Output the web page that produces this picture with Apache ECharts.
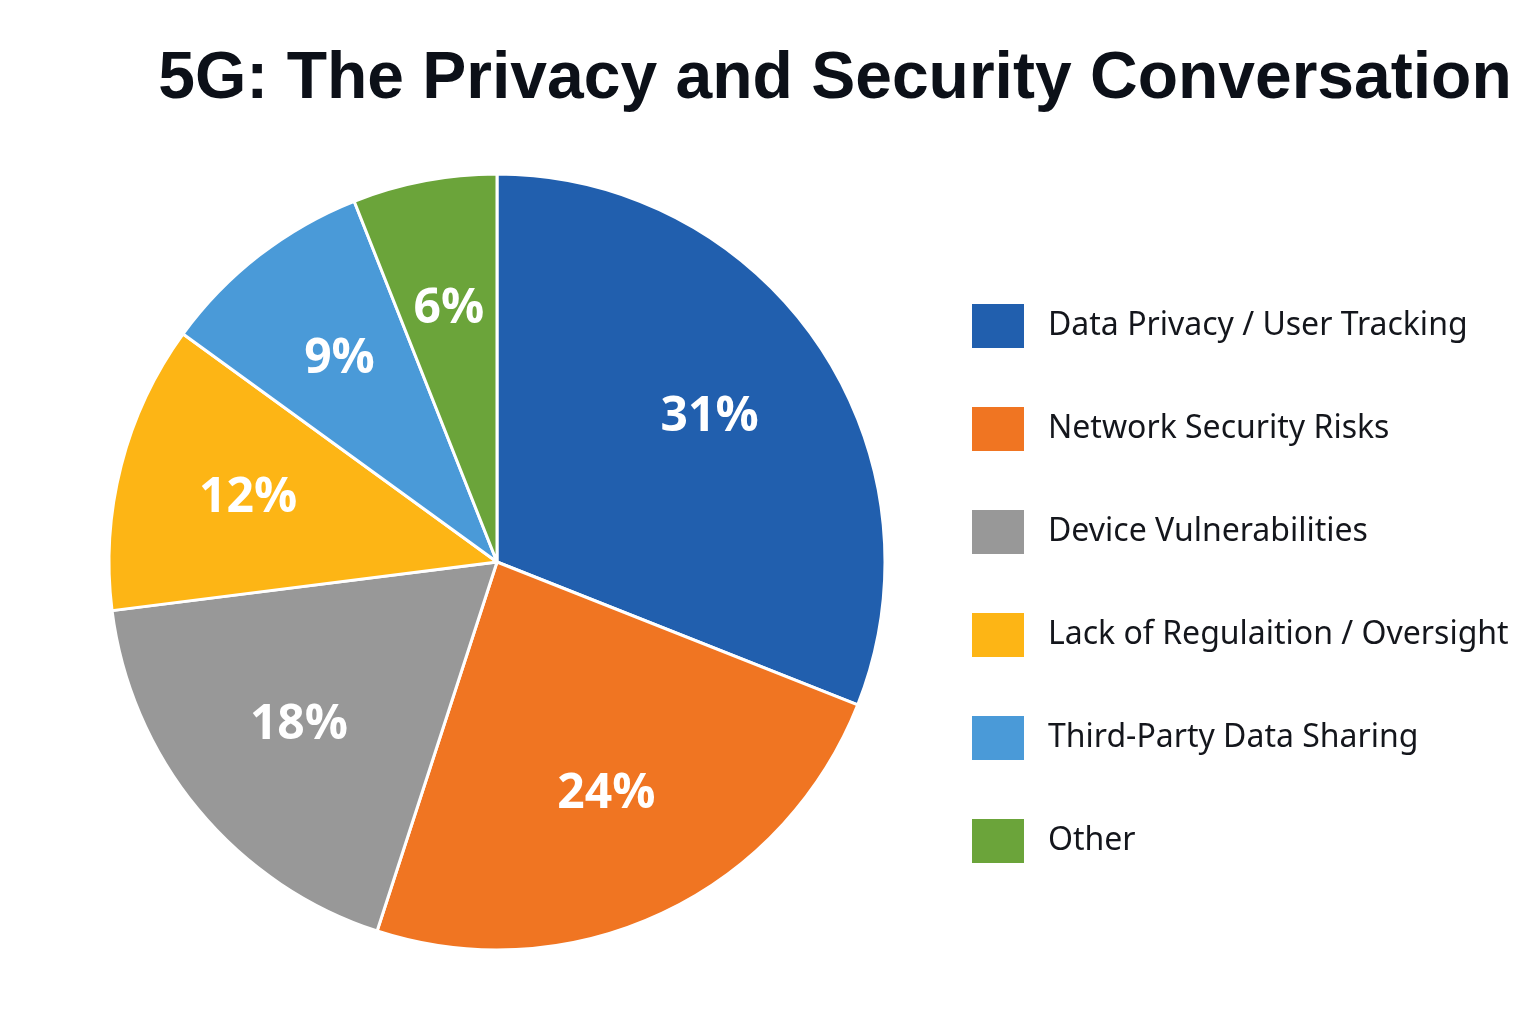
<!DOCTYPE html>
<html>
<head>
<meta charset="utf-8">
<title>5G: The Privacy and Security Conversation</title>
<script src="https://cdn.jsdelivr.net/npm/echarts@6/dist/echarts.min.js"></script>
<style>
  html, body { margin: 0; padding: 0; background: #ffffff; }
  #main { width: 1536px; height: 1024px; }
</style>
</head>
<body>
<div id="main"></div>
<script>
// data
var categories = ['Data Privacy / User Tracking', 'Network Security Risks', 'Device Vulnerabilities',
                  'Lack of Regulaition / Oversight', 'Third-Party Data Sharing', 'Other'];
var shares = [31, 24, 18, 12, 9, 6];
var colors = ['#215FAE', '#F07522', '#989898', '#FDB515', '#4A9AD8', '#6BA43A'];

var pieData = categories.map(function (name, i) {
  return { name: name, value: shares[i], itemStyle: { color: colors[i] } };
});

var chart = echarts.init(document.getElementById('main'));
var option = {
  backgroundColor: '#ffffff',
  color: colors,
  title: {
    text: '5G: The Privacy and Security Conversation',
    left: 830,
    textAlign: 'center',
    top: 42,
    textStyle: {
      fontFamily: '"Liberation Sans", Arial, sans-serif',
      fontWeight: 'bold',
      fontSize: 66,
      color: '#0c1018'
    }
  },
  legend: {
    orient: 'vertical',
    left: 972,
    top: 304,
    padding: 0,
    icon: 'rect',
    itemWidth: 52,
    itemHeight: 44,
    itemGap: 59,
    data: categories,
    selectedMode: false,
    itemStyle: { borderWidth: 0 },
    textStyle: {
      fontFamily: '"Noto Sans", sans-serif',
      fontSize: 32,
      color: '#14161c',
      padding: [0, 0, 0, 19]
    }
  },
  series: [
    {
      type: 'pie',
      center: [497, 562],
      radius: [0, 388],
      startAngle: 90,
      clockwise: true,
      silent: true,
      label: { show: false },
      labelLine: { show: false },
      itemStyle: { borderColor: '#ffffff', borderWidth: 3 },
      data: pieData
    },
    {
      // transparent ring, only used to push the labels outward
      type: 'pie',
      center: [497, 562],
      radius: [120, 388],
      startAngle: 90,
      clockwise: true,
      silent: true,
      itemStyle: { color: 'rgba(0,0,0,0)' },
      label: {
        show: true,
        position: 'inside',
        formatter: '{c}%',
        color: '#ffffff',
        fontFamily: '"Open Sans", sans-serif',
        fontWeight: 'bold',
        fontSize: 48
      },
      labelLine: { show: false },
      data: categories.map(function (name, i) { return { name: name, value: shares[i] }; })
    }
  ]
};
chart.setOption(option);
</script>
</body>
</html>
